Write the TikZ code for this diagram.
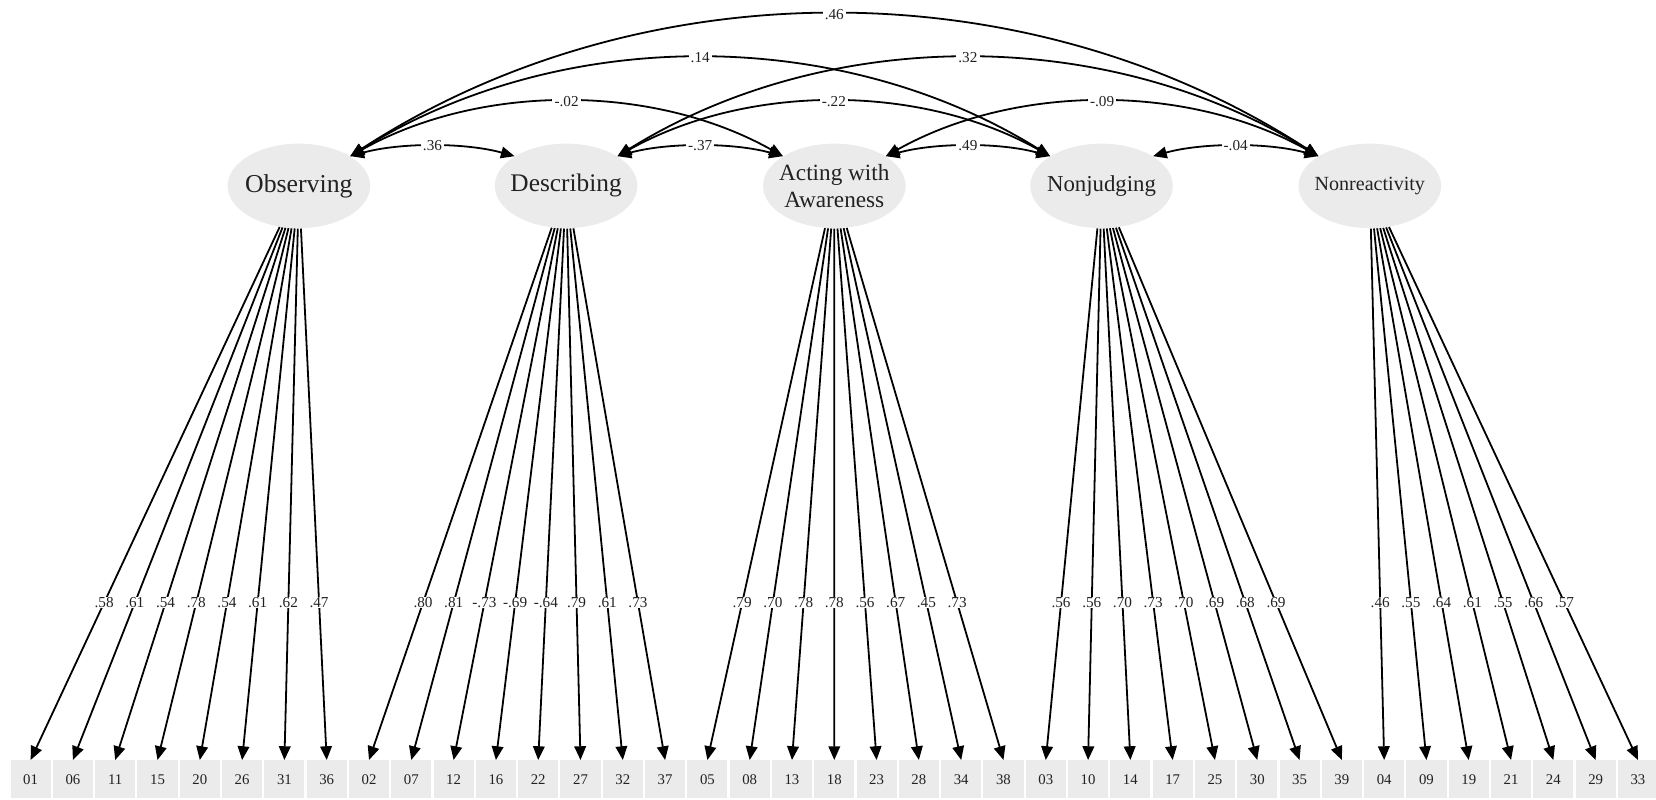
\documentclass[tikz,border=0pt]{standalone}
\usepackage{fontspec}
\setmainfont{Liberation Serif}
\usetikzlibrary{arrows.meta,calc,shapes.geometric}
\definecolor{latfill}{HTML}{EBEBEB}
\definecolor{itfill}{HTML}{EBEBEB}
\definecolor{txt}{HTML}{222222}
\newcommand\myloadings[2]{%
  \foreach \itm/\ldv in {#2}{\draw[load] (#1) -- (i\itm.north);}%
  \foreach \itm/\ldv in {#2}{\node[ldlab] at ($(#1)!0.726!(i\itm.north)$) {\ldv};}%
}
\begin{document}
\begin{tikzpicture}[x=0.5pt,y=-0.5pt,
  latent/.style={ellipse, fill=latfill, minimum width=67.5pt, minimum height=40pt, inner sep=0pt},
  lattext/.style={inner sep=0pt, text=txt, align=center},
  item/.style={rectangle, fill=itfill, minimum width=19pt, minimum height=18pt, inner sep=0pt, text=txt, font=\fontsize{7}{8}\selectfont},
  load/.style={line width=0.85pt, -{Triangle[length=6.5pt,width=5.5pt]}},
  cov/.style={line width=0.85pt, {Triangle[length=6.5pt,width=5.5pt]}-{Triangle[length=6.5pt,width=5.5pt]}},
  ldlab/.style={fill=white, inner sep=0.2pt, text=txt, font=\fontsize{7.2}{8}\selectfont},
  arclab/.style={fill=white, inner sep=1pt, text=txt, font=\fontsize{7.2}{8}\selectfont, pos=0.5}]
\useasboundingbox (0,0) rectangle (1568,757);

% latent factors
\node[latent] (obs) at (283,176) {};
\node[latent] (des) at (536,176) {};
\node[latent] (act) at (790,176) {};
\node[latent] (nonj) at (1043,176) {};
\node[latent] (nonr) at (1297,176) {};
\node[lattext, font=\fontsize{12.2}{14}\selectfont] (obst) at (obs) {Observing};
\node[lattext, font=\fontsize{12}{14}\selectfont] (dest) at (des) {Describing};
\node[lattext, font=\fontsize{11}{13}\selectfont] (actt) at (act) {Acting with\\Awareness};
\node[lattext, font=\fontsize{10.8}{13}\selectfont] (nonjt) at (nonj) {Nonjudging};
\node[lattext, font=\fontsize{9.5}{12}\selectfont] (nonrt) at (nonr) {Nonreactivity};

% items
\foreach \lab [count=\i from 0] in {01,06,11,15,20,26,31,36,02,07,12,16,22,27,32,37,05,08,13,18,23,28,34,38,03,10,14,17,25,30,35,39,04,09,19,21,24,29,33}
  \node[item] (i\lab) at ({29+40.05*\i},738) {\lab};

% loadings
\myloadings{obs}{01/.58,06/.61,11/.54,15/.78,20/.54,26/.61,31/.62,36/.47}
\myloadings{des}{02/.80,07/.81,12/-.73,16/-.69,22/-.64,27/.79,32/.61,37/.73}
\myloadings{act}{05/.79,08/.70,13/.78,18/.78,23/.56,28/.67,34/.45,38/.73}
\myloadings{nonj}{03/.56,10/.56,14/.70,17/.73,25/.70,30/.69,35/.68,39/.69}
\myloadings{nonr}{04/.46,09/.55,19/.64,21/.61,24/.55,29/.66,33/.57}

% covariances
\draw[cov] (obs.30) .. controls ($(obs.30)+(275,-179)$) and ($(nonr.150)+(-275,-179)$) .. (nonr.150) node[arclab] {.46};
\draw[cov] (obs.30) .. controls ($(obs.30)+(199,-124)$) and ($(nonj.150)+(-199,-124)$) .. (nonj.150) node[arclab] {.14};
\draw[cov] (des.30) .. controls ($(des.30)+(199,-124)$) and ($(nonr.150)+(-199,-124)$) .. (nonr.150) node[arclab] {.32};
\draw[cov] (obs.30) .. controls ($(obs.30)+(123,-69)$) and ($(act.150)+(-123,-69)$) .. (act.150) node[arclab] {-.02};
\draw[cov] (des.30) .. controls ($(des.30)+(123,-69)$) and ($(nonj.150)+(-123,-69)$) .. (nonj.150) node[arclab] {-.22};
\draw[cov] (act.30) .. controls ($(act.30)+(123,-69)$) and ($(nonr.150)+(-123,-69)$) .. (nonr.150) node[arclab] {-.09};
\draw[cov] (obs.30) .. controls ($(obs.30)+(47,-13)$) and ($(des.150)+(-47,-13)$) .. (des.150) node[arclab] {.36};
\draw[cov] (des.30) .. controls ($(des.30)+(47,-13)$) and ($(act.150)+(-47,-13)$) .. (act.150) node[arclab] {-.37};
\draw[cov] (act.30) .. controls ($(act.30)+(47,-13)$) and ($(nonj.150)+(-47,-13)$) .. (nonj.150) node[arclab] {.49};
\draw[cov] (nonj.30) .. controls ($(nonj.30)+(47,-13)$) and ($(nonr.150)+(-47,-13)$) .. (nonr.150) node[arclab] {-.04};
\end{tikzpicture}
\end{document}
